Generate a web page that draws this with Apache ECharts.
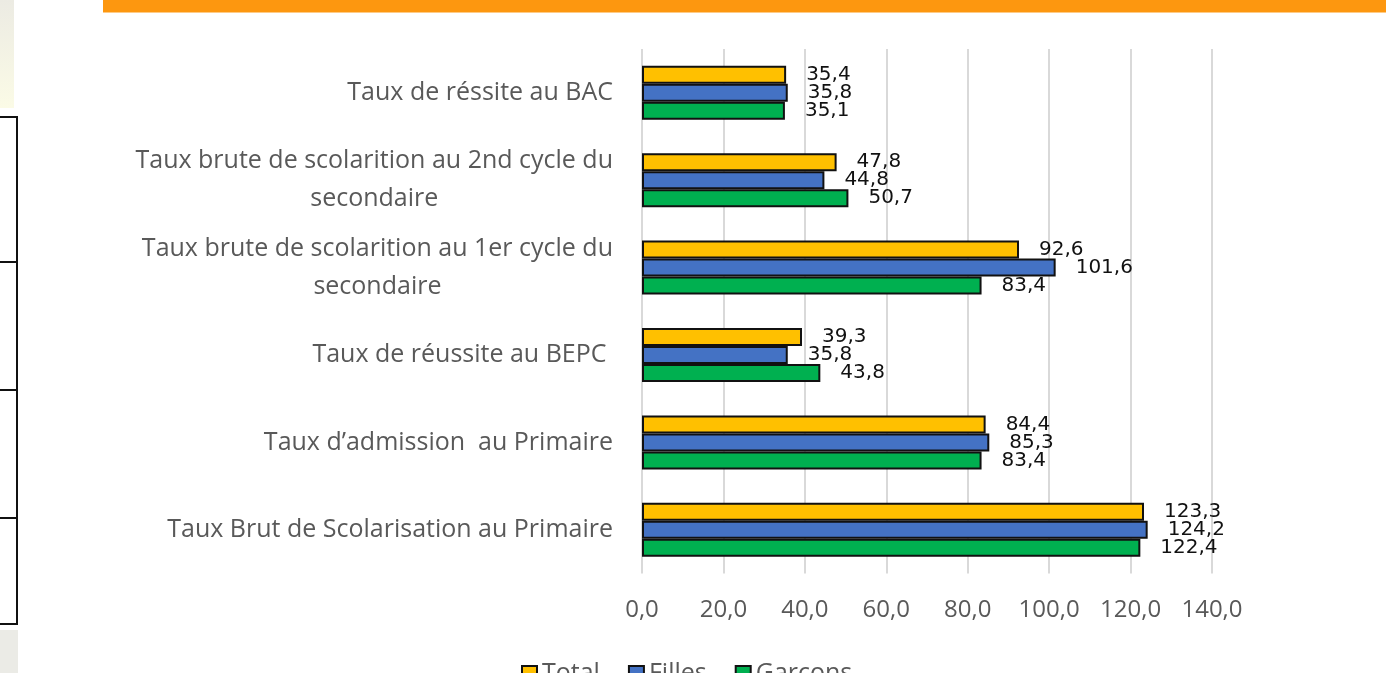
<!DOCTYPE html>
<html lang="fr">
<head>
	<meta charset="UTF-8">
	<title>Taux de scolarisation</title>
	<script src="https://cdn.jsdelivr.net/npm/echarts@6/dist/echarts.min.js"></script>
	<style>
		body { margin:0; background:#fff; }
		#main { width:1386px; height:673px; }
	</style>
</head>
<body>
	<div id="main"></div>
	<script type="text/javascript">
		// categories, de haut en bas
		var categories = [
			'Taux de réssite au BAC',
			'Taux brute de scolarition au 2nd cycle du\nsecondaire',
			'Taux brute de scolarition au 1er cycle du\nsecondaire',
			'Taux de réussite au BEPC ',
			'Taux d\u2019admission  au Primaire',
			'Taux Brut de Scolarisation au Primaire'
		];
		var total   = [35.4, 47.8, 92.6, 39.3, 84.4, 123.3];
		var filles  = [35.8, 44.8, 101.6, 35.8, 85.3, 124.2];
		var garcons = [35.1, 50.7, 83.4, 43.8, 83.4, 122.4];
		var xTicks = [0, 20, 40, 60, 80, 100, 120, 140];

		var myChart = echarts.init(document.getElementById('main'));

		function virgule(v) {
			return Number(v).toFixed(1).replace('.', ',');
		}

		function serie(name, data, color) {
			return {
				name: name,
				type: 'bar',
				data: data,
				barWidth: 18,
				barGap: '0%',
				itemStyle: {
					color: color,
					borderColor: '#111',
					borderWidth: 2
				},
				label: {
					show: true,
					position: 'right',
					distance: 20,
					color: '#111',
					fontFamily: 'DejaVu Sans',
					fontSize: 20,
					formatter: function (p) { return virgule(p.value); }
				}
			};
		}

		myChart.setOption({
			animation: false,
			backgroundColor: '#fff',
			graphic: [
				// bandeau orange du haut
				{ type: 'rect', shape: { x: 103, y: 0, width: 1283, height: 12.5 }, style: { fill: '#FD970F' } },
				// bande beige a gauche
				{ type: 'rect', shape: { x: 0, y: 0, width: 14, height: 108 },
				  style: { fill: new echarts.graphic.LinearGradient(0, 0, 0, 1, [
					{ offset: 0, color: '#ecebe3' }, { offset: 1, color: '#fbfbe6' }]) } },
				{ type: 'rect', shape: { x: 0, y: 630, width: 18, height: 43 }, style: { fill: '#ebebe6' } },
				// cases du tableau coupe a gauche
				{ type: 'rect', shape: { x: -3, y: 117, width: 20, height: 507 }, style: { fill: '#fff', stroke: '#111', lineWidth: 2 } },
				{ type: 'line', shape: { x1: 0, y1: 262, x2: 17, y2: 262 }, style: { stroke: '#111', lineWidth: 2 } },
				{ type: 'line', shape: { x1: 0, y1: 390, x2: 17, y2: 390 }, style: { stroke: '#111', lineWidth: 2 } },
				{ type: 'line', shape: { x1: 0, y1: 518, x2: 17, y2: 518 }, style: { stroke: '#111', lineWidth: 2 } }
			],
			legend: {
				data: ['Total', 'Filles', 'Garcons'],
				left: 516,
				top: 656,
				icon: 'rect',
				itemWidth: 15,
				itemHeight: 15,
				itemGap: 28,
				textStyle: { color: '#595959', fontFamily: 'Open Sans', fontSize: 25 }
			},
			grid: {
				left: 642,
				right: 174,
				top: 49,
				bottom: 99.5
			},
			xAxis: {
				type: 'value',
				min: xTicks[0],
				max: xTicks[xTicks.length - 1],
				interval: xTicks[1] - xTicks[0],
				axisLine: { show: false },
				axisTick: { show: false },
				splitLine: { show: true, lineStyle: { color: '#d9d9d9', width: 2 } },
				axisLabel: {
					margin: 25,
					color: '#595959',
					fontFamily: 'Open Sans',
					fontSize: 24,
					formatter: virgule
				}
			},
			yAxis: {
				type: 'category',
				inverse: true,
				data: categories,
				axisLine: { show: false },
				axisTick: { show: false },
				splitLine: { show: false },
				axisLabel: {
					margin: 29,
					color: '#595959',
					fontFamily: 'Open Sans',
					fontSize: 25,
					lineHeight: 38,
					formatter: function (v) {
						return v.split('\n').map(function (l) { return '{c|' + l + '}'; }).join('\n');
					},
					rich: {
						c: { align: 'center', color: '#595959', fontFamily: 'Open Sans', fontSize: 25, lineHeight: 38 }
					}
				}
			},
			series: [
				serie('Total', total, '#FFC000'),
				serie('Filles', filles, '#4472C4'),
				serie('Garcons', garcons, '#00B050')
			]
		});
	</script>
</body>
</html>
